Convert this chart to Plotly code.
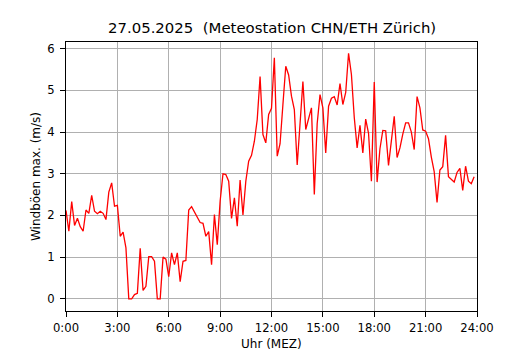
import plotly.graph_objects as go

# Data: 10-minute values, 0:00 .. 23:50
gust = [
    2.12, 1.62, 2.33, 1.76, 1.93, 1.73, 1.62, 2.13, 2.05, 2.48,
    2.10, 2.04, 2.10, 2.05, 1.90, 2.56, 2.78, 2.22, 2.24, 1.50,
    1.60, 1.22, 0.00, 0.00, 0.10, 0.13, 1.21, 0.20, 0.30, 1.01,
    1.01, 0.90, 0.00, 0.00, 1.00, 0.95, 0.53, 1.10, 0.82, 1.10,
    0.41, 0.90, 0.92, 2.13, 2.21, 2.08, 1.98, 1.83, 1.81, 1.50,
    1.61, 0.82, 2.02, 1.30, 2.34, 3.00, 2.98, 2.82, 1.93, 2.42,
    1.74, 2.85, 2.01, 2.82, 3.30, 3.44, 3.78, 4.30, 5.33, 3.94,
    3.74, 4.42, 4.57, 5.78, 3.42, 3.72, 4.66, 5.58, 5.37, 4.86,
    4.54, 3.21, 4.20, 5.21, 4.06, 4.30, 4.58, 2.50, 4.20, 4.90,
    4.58, 3.50, 4.62, 4.81, 4.85, 4.65, 5.16, 4.66, 4.95, 5.89,
    5.38, 4.35, 3.62, 4.16, 3.50, 4.31, 3.97, 2.82, 5.20, 2.80,
    3.60, 4.04, 4.03, 3.20, 3.80, 4.38, 3.39, 3.62, 3.95, 4.22,
    4.22, 4.00, 3.58, 4.85, 4.58, 4.05, 4.02, 3.84, 3.40, 3.05,
    2.31, 3.09, 3.17, 3.92, 2.93, 2.86, 2.80, 3.03, 3.13, 2.60,
    3.18, 2.82, 2.76, 2.93,
]
hours = [i / 6 for i in range(len(gust))]

x_tickvals = [0, 3, 6, 9, 12, 15, 18, 21, 24]
x_ticktext = ["0:00", "3:00", "6:00", "9:00", "12:00", "15:00", "18:00", "21:00", "24:00"]
y_tickvals = [0, 1, 2, 3, 4, 5, 6]

title_text = "27.05.2025  (Meteostation CHN/ETH Zürich)"
x_title = "Uhr (MEZ)"
y_title = "Windböen max. (m/s)"

FONT = "DejaVu Sans"
TICK_SIZE = 11.6
LABEL_SIZE = 12
TITLE_SIZE = 14.9

fig = go.Figure()
fig.add_trace(go.Scatter(
    x=hours, y=gust, mode="lines",
    line=dict(color="#ff0000", width=1.3),
    hoverinfo="skip", showlegend=False,
))

axis_common = dict(
    showline=True, mirror=True, linecolor="black", linewidth=1,
    ticks="outside", ticklen=5, tickwidth=1, tickcolor="black",
    showgrid=True, gridcolor="#b0b0b0", gridwidth=1,
    zeroline=False, automargin=False,
    tickfont=dict(family=FONT, size=TICK_SIZE, color="black"),
)

fig.update_layout(
    width=530, height=350,
    margin=dict(l=66.25, r=53, t=42, b=38.5, pad=0, autoexpand=False),
    paper_bgcolor="white", plot_bgcolor="white",
    font=dict(family=FONT, color="black"),
    xaxis=dict(range=[0, 24], tickvals=x_tickvals, ticktext=x_ticktext,
               ticklabelstandoff=1, **axis_common),
    yaxis=dict(range=[-0.293, 6.16], tickvals=y_tickvals,
               ticklabelstandoff=3, **axis_common),
    annotations=[
        dict(text=title_text, xref="paper", yref="paper", x=0.5, y=1,
             xanchor="center", yanchor="bottom", yshift=4, showarrow=False,
             borderpad=0, font=dict(family=FONT, size=TITLE_SIZE, color="black")),
        dict(text=x_title, xref="paper", yref="paper", x=0.5, y=0,
             xanchor="center", yanchor="top", yshift=-24.5, showarrow=False,
             borderpad=0, font=dict(family=FONT, size=LABEL_SIZE, color="black")),
        dict(text=y_title, xref="paper", yref="paper", x=0, y=0.5,
             xanchor="right", yanchor="middle", xshift=-22.5, textangle=-90,
             showarrow=False, borderpad=0,
             font=dict(family=FONT, size=LABEL_SIZE, color="black")),
    ],
)

fig.write_html("out.html",
               config={"displayModeBar": False, "staticPlot": True},
               post_script="document.body.style.margin='0px';document.body.style.padding='0px';")
